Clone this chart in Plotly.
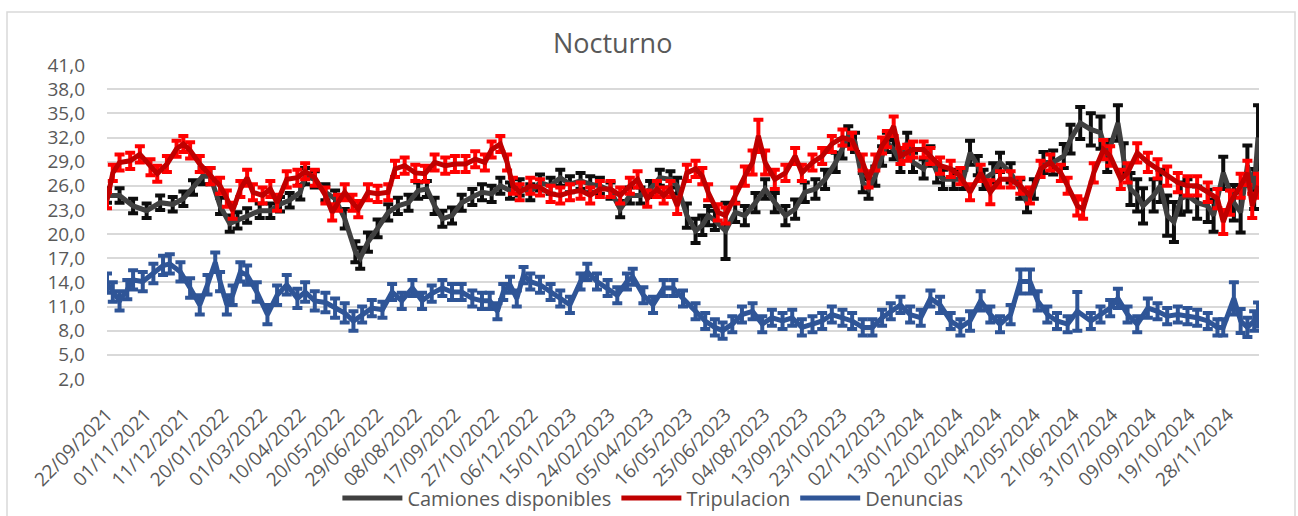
import plotly.graph_objects as go

# ---- category axis labels (every 40th day) ----
tick_labels = ["22/09/2021", "01/11/2021", "11/12/2021", "20/01/2022", "01/03/2022",
               "10/04/2022", "20/05/2022", "29/06/2022", "08/08/2022", "17/09/2022",
               "27/10/2022", "06/12/2022", "15/01/2023", "24/02/2023", "05/04/2023",
               "16/05/2023", "25/06/2023", "04/08/2023", "13/09/2023", "23/10/2023",
               "02/12/2023", "13/01/2024", "22/02/2024", "02/04/2024", "12/05/2024",
               "21/06/2024", "31/07/2024", "09/09/2024", "19/10/2024", "28/11/2024"]
tick_index = [i * 40 for i in range(len(tick_labels))]
n_days = 1192
y_ticks = [2, 5, 8, 11, 14, 17, 20, 23, 26, 29, 32, 35, 38, 41]

# ---- Camiones disponibles ----
cam_idx = [0, 13, 27, 41, 55, 68, 79, 89, 99, 107,
           117, 127, 135, 145, 158, 169, 179, 189, 200, 205,
           215, 226, 236, 246, 257, 262, 270, 280, 291, 301,
           312, 322, 331, 339, 347, 357, 367, 378, 388, 398,
           407, 417, 427, 438, 448, 459, 469, 479, 490, 500,
           510, 521, 531, 541, 552, 562, 572, 583, 590, 600,
           609, 616, 622, 629, 640, 650, 660, 671, 681, 691,
           702, 712, 722, 733, 743, 754, 761, 767, 774, 782,
           788, 795, 802, 807, 814, 821, 828, 834, 845, 852,
           859, 865, 876, 886, 893, 901, 907, 917, 924, 935,
           945, 952, 959, 969, 979, 990, 997, 1007, 1018, 1028,
           1035, 1046, 1052, 1059, 1066, 1072, 1083, 1090, 1097, 1104,
           1111, 1118, 1128, 1139, 1145, 1155, 1166, 1173, 1180, 1187,
           1191]
cam_val = [24.8, 24.8, 23.5, 22.9, 23.9, 23.7, 24.4, 25.8, 27.2, 27.2,
           23.5, 21.3, 21.7, 22.3, 22.9, 22.9, 23.7, 24.2, 25.2, 27.2,
           26.8, 25.2, 24.4, 21.9, 17.8, 17.0, 19.0, 20.7, 22.7, 23.5,
           23.9, 25.4, 25.6, 23.5, 21.9, 22.3, 23.9, 24.6, 25.2, 25.0,
           26.0, 25.4, 25.8, 25.2, 26.4, 26.0, 27.0, 26.2, 26.6, 26.2,
           26.0, 25.4, 23.1, 24.8, 24.8, 25.6, 27.0, 26.8, 26.0, 22.3,
           20.4, 21.1, 22.3, 21.7, 20.4, 22.7, 22.3, 23.9, 25.6, 23.9,
           22.3, 23.1, 25.2, 25.6, 26.8, 28.9, 30.6, 32.2, 31.4, 26.4,
           25.6, 27.2, 29.7, 31.4, 30.5, 28.9, 31.4, 28.9, 28.1, 29.7,
           27.6, 26.8, 26.8, 26.8, 30.1, 28.5, 26.8, 27.6, 28.9, 27.6,
           25.6, 23.9, 25.6, 28.9, 28.9, 29.7, 31.8, 33.8, 33.0, 32.6,
           29.7, 33.8, 29.3, 25.6, 24.8, 23.5, 24.8, 26.0, 22.3, 21.5,
           24.4, 24.8, 23.9, 23.5, 22.3, 27.6, 23.9, 22.7, 28.5, 25.6,
           32.0]
cam_err = [0.9, 0.9, 0.9, 0.9, 0.9, 0.9, 0.9, 0.9, 1.0, 1.0,
           1.0, 1.0, 1.0, 0.9, 0.9, 0.9, 0.9, 0.9, 0.9, 1.0,
           1.0, 1.0, 1.0, 1.2, 1.3, 1.3, 1.2, 1.1, 1.0, 1.0,
           1.0, 1.0, 1.0, 1.0, 1.0, 1.0, 1.0, 1.0, 1.0, 1.0,
           1.0, 1.0, 1.0, 1.0, 1.0, 1.0, 1.0, 1.0, 1.0, 1.0,
           1.0, 1.0, 1.0, 1.0, 1.0, 1.0, 1.0, 1.0, 1.0, 1.5,
           1.5, 1.2, 1.2, 1.2, 3.5, 1.2, 1.2, 1.2, 1.2, 1.2,
           1.2, 1.2, 1.2, 1.2, 1.2, 1.2, 1.2, 1.2, 1.2, 1.2,
           1.2, 1.2, 1.2, 1.2, 1.2, 1.2, 1.2, 1.2, 1.2, 1.2,
           1.2, 1.2, 1.2, 1.2, 1.5, 1.2, 1.2, 1.2, 1.2, 1.2,
           1.2, 1.2, 1.2, 1.3, 1.5, 1.5, 1.8, 2.0, 2.0, 2.0,
           2.0, 2.2, 2.0, 2.0, 2.0, 2.2, 2.0, 2.0, 2.5, 2.5,
           2.0, 2.0, 2.0, 2.0, 2.0, 2.0, 2.2, 2.5, 2.5, 2.5,
           4.0]

# ---- Tripulacion ----
tri_idx = [0, 6, 13, 24, 34, 45, 52, 62, 72, 79,
           86, 96, 107, 117, 124, 130, 138, 145, 151, 161,
           169, 176, 186, 197, 205, 215, 226, 233, 239, 246,
           254, 260, 270, 280, 291, 298, 308, 319, 329, 339,
           350, 360, 371, 381, 391, 398, 407, 414, 420, 427,
           438, 448, 459, 469, 479, 490, 500, 510, 521, 531,
           541, 549, 559, 569, 576, 583, 590, 600, 609, 616,
           622, 632, 640, 650, 660, 668, 674, 681, 691, 702,
           712, 719, 730, 740, 750, 761, 771, 782, 788, 795,
           802, 807, 814, 821, 828, 834, 845, 852, 862, 873,
           883, 893, 904, 914, 924, 935, 945, 955, 966, 976,
           987, 994, 1004, 1010, 1021, 1031, 1038, 1049, 1056, 1066,
           1077, 1087, 1097, 1108, 1118, 1128, 1139, 1149, 1155, 1162,
           1173, 1180, 1185, 1191]
tri_val = [24.2, 27.6, 28.9, 29.1, 29.9, 28.3, 27.5, 28.7, 30.6, 31.2,
           30.4, 28.7, 27.2, 26.0, 24.4, 22.9, 25.6, 27.0, 25.2, 24.8,
           25.6, 23.9, 26.8, 27.0, 27.8, 27.0, 24.8, 22.7, 23.9, 25.2,
           23.9, 23.1, 25.2, 25.0, 25.2, 28.1, 28.5, 27.6, 27.5, 28.9,
           28.5, 28.7, 28.7, 29.3, 28.9, 30.5, 31.2, 28.9, 26.0, 25.2,
           26.0, 25.8, 25.0, 24.8, 25.2, 25.4, 24.8, 25.6, 25.6, 24.8,
           26.0, 26.8, 24.4, 25.6, 24.8, 25.6, 23.5, 27.6, 28.1, 27.2,
           25.2, 22.7, 22.3, 24.8, 27.2, 28.9, 32.2, 28.9, 26.8, 27.6,
           29.7, 27.6, 28.9, 29.7, 31.2, 32.0, 31.6, 28.9, 26.8, 28.9,
           31.0, 31.8, 33.4, 29.7, 30.1, 30.5, 30.5, 29.7, 28.5, 28.1,
           27.2, 25.2, 27.6, 25.2, 26.8, 26.8, 26.0, 24.8, 28.1, 28.9,
           27.6, 26.0, 23.5, 23.1, 27.6, 30.5, 29.7, 26.8, 27.6, 30.1,
           28.9, 28.1, 27.2, 26.4, 26.0, 26.0, 25.2, 24.4, 21.5, 23.9,
           26.0, 27.6, 23.5, 26.0]
tri_err = [1.0, 1.0, 1.0, 1.0, 1.0, 1.0, 1.0, 1.0, 1.0, 1.0,
           1.0, 1.0, 1.0, 1.0, 1.0, 1.0, 1.0, 1.0, 1.0, 1.0,
           1.0, 1.0, 1.0, 1.0, 1.0, 1.0, 1.0, 1.0, 1.0, 1.0,
           1.0, 1.0, 1.0, 1.0, 1.0, 1.0, 1.0, 1.0, 1.0, 1.0,
           1.0, 1.0, 1.0, 1.0, 1.0, 1.0, 1.0, 1.0, 1.0, 1.0,
           1.0, 1.0, 1.0, 1.0, 1.0, 1.0, 1.0, 1.0, 1.0, 1.0,
           1.0, 1.0, 1.0, 1.0, 1.0, 1.0, 1.0, 1.0, 1.0, 1.0,
           1.0, 1.0, 1.0, 1.0, 1.2, 1.5, 2.0, 1.5, 1.2, 1.0,
           1.0, 1.0, 1.0, 1.0, 1.0, 1.0, 1.0, 1.0, 1.0, 1.0,
           1.0, 1.0, 1.2, 1.0, 1.0, 1.0, 1.0, 1.0, 1.0, 1.0,
           1.0, 1.0, 1.0, 1.5, 1.0, 1.0, 1.0, 1.0, 1.0, 1.0,
           1.0, 1.0, 1.2, 1.2, 1.2, 1.2, 1.2, 1.2, 1.2, 1.2,
           1.2, 1.2, 1.2, 1.2, 1.2, 1.2, 1.2, 1.2, 1.5, 1.5,
           1.5, 1.5, 1.5, 1.5]

# ---- Denuncias ----
den_idx = [0, 6, 13, 21, 27, 37, 48, 58, 65, 76,
           86, 96, 104, 112, 117, 124, 130, 138, 145, 155,
           166, 176, 186, 197, 205, 215, 226, 236, 246, 255,
           264, 274, 285, 295, 305, 316, 326, 336, 347, 357,
           367, 378, 388, 396, 404, 410, 417, 424, 431, 438,
           448, 459, 469, 479, 490, 497, 507, 518, 528, 538,
           544, 555, 565, 576, 586, 596, 609, 619, 629, 637,
           647, 657, 668, 678, 688, 699, 709, 719, 730, 740,
           750, 761, 771, 782, 792, 802, 811, 821, 831, 842,
           852, 862, 873, 883, 893, 904, 914, 924, 935, 945,
           955, 963, 973, 983, 994, 1004, 1018, 1028, 1038, 1046,
           1056, 1066, 1077, 1087, 1097, 1108, 1118, 1128, 1139, 1149,
           1155, 1166, 1173, 1180, 1187, 1191]
den_val = [13.9, 12.8, 11.7, 13.1, 14.3, 14.1, 15.1, 16.1, 16.3, 15.3,
           13.3, 11.2, 13.7, 16.5, 14.1, 11.2, 12.4, 15.3, 14.9, 12.8,
           10.0, 12.4, 13.7, 12.0, 12.8, 11.7, 11.5, 10.8, 10.2, 9.2,
           10.0, 10.8, 10.6, 12.8, 11.7, 13.3, 11.7, 12.6, 13.3, 12.8,
           12.8, 12.0, 11.7, 11.7, 10.4, 12.8, 13.7, 12.0, 14.9, 14.1,
           13.7, 12.8, 12.0, 11.2, 14.1, 15.3, 14.1, 13.3, 12.4, 14.1,
           14.7, 12.4, 11.2, 13.3, 13.3, 12.0, 10.4, 9.2, 8.4, 8.0,
           8.8, 10.0, 10.4, 8.8, 9.6, 9.2, 9.6, 8.4, 8.8, 9.2,
           10.0, 9.6, 9.2, 8.4, 8.4, 9.6, 10.4, 11.2, 10.0, 9.6,
           12.0, 11.2, 9.2, 8.4, 9.2, 11.7, 10.0, 8.8, 10.0, 14.1,
           14.1, 11.7, 10.0, 9.2, 8.8, 10.4, 9.2, 10.0, 10.8, 12.0,
           10.0, 8.8, 10.8, 10.4, 9.8, 10.0, 9.8, 9.6, 9.2, 8.4,
           8.4, 12.0, 9.2, 8.4, 9.2, 10.0]
den_err = [1.2, 1.2, 1.2, 1.2, 1.2, 1.2, 1.2, 1.2, 1.2, 1.2,
           1.2, 1.2, 1.2, 1.2, 1.2, 1.2, 1.2, 1.2, 1.2, 1.2,
           1.2, 1.2, 1.2, 1.2, 1.2, 1.2, 1.2, 1.2, 1.2, 1.2,
           1.0, 1.0, 1.0, 1.0, 1.0, 1.0, 1.0, 1.0, 1.0, 1.0,
           1.0, 1.0, 1.0, 1.0, 1.0, 1.0, 1.0, 1.0, 1.0, 1.0,
           1.0, 1.0, 1.0, 1.0, 1.0, 1.0, 1.0, 1.0, 1.0, 1.0,
           1.0, 1.0, 1.0, 1.0, 1.0, 1.0, 1.0, 1.0, 1.0, 1.0,
           1.0, 1.0, 1.0, 1.0, 1.0, 1.0, 1.0, 1.0, 1.0, 1.0,
           1.0, 1.0, 1.0, 1.0, 1.0, 1.0, 1.0, 1.0, 1.0, 1.0,
           1.0, 1.0, 1.0, 1.0, 1.2, 1.2, 1.0, 1.0, 1.2, 1.5,
           1.5, 1.2, 1.0, 1.0, 1.0, 2.4, 1.0, 1.0, 1.0, 1.2,
           1.0, 1.0, 1.2, 1.0, 1.0, 1.0, 1.0, 1.0, 1.0, 1.0,
           1.0, 2.0, 1.5, 1.2, 1.2, 1.5]

FONT = "Open Sans"
GREY_TXT = "#595959"

fig = go.Figure()
series = [
    ("Camiones disponibles", cam_idx, cam_val, cam_err, "#404040", "#0d0d0d"),
    ("Tripulacion", tri_idx, tri_val, tri_err, "#c00000", "#ff0000"),
    ("Denuncias", den_idx, den_val, den_err, "#2f5597", "#2f5597"),
]
for name, xi, yv, ev, lc, ec in series:
    fig.add_trace(go.Scatter(
        x=xi, y=yv, name=name, mode="lines", legendgroup=name,
        line=dict(color=lc, width=5),
        error_y=dict(type="data", array=ev, visible=True, color=ec,
                     thickness=4, width=5),
    ))

fig.update_layout(
    width=1298, height=516, autosize=False,
    paper_bgcolor="white", plot_bgcolor="white",
    margin=dict(l=107, r=39, t=65, b=137, autoexpand=False),
    separators=",.",
    font=dict(family=FONT, color=GREY_TXT, size=20),
    title=dict(text="Nocturno", x=0.472, xref="container", xanchor="center",
               y=0.915, yref="container", yanchor="middle", pad=dict(t=0, b=0),
               automargin=False,
               font=dict(family=FONT, size=27, color=GREY_TXT)),
    xaxis=dict(range=[0, n_days], tickmode="array", tickvals=tick_index,
               ticktext=tick_labels, tickangle=-45, showgrid=False,
               zeroline=False, showline=False, ticks="", automargin=False,
               tickfont=dict(family=FONT, size=19, color=GREY_TXT),
               ticklabelstandoff=20),
    yaxis=dict(range=[1.99, 41.01], tickmode="array", tickvals=y_ticks,
               tickformat=".1f", showgrid=True, gridcolor="#d9d9d9", gridwidth=1.5,
               zeroline=False, showline=False, ticks="", automargin=False,
               tickfont=dict(family=FONT, size=19, color=GREY_TXT),
               ticklabelstandoff=21),
    showlegend=True,
    legend=dict(orientation="h", xref="container", yref="container",
                x=0.503, xanchor="center", y=0.035, yanchor="middle",
                font=dict(family=FONT, size=20, color=GREY_TXT),
                itemwidth=60, bgcolor="rgba(0,0,0,0)"),
    shapes=[dict(type="rect", xref="paper", yref="paper",
                 x0=(7 - 107) / 1152, x1=(1295 - 107) / 1152,
                 y0=(379.3 - 522) / 314.3, y1=(379.3 - 12) / 314.3,
                 line=dict(color="#d9d9d9", width=1.5), layer="below")],
)

fig.write_html("out.html", config={"displayModeBar": False},
               post_script="document.body.style.margin='0px';document.body.style.overflow='hidden';")
